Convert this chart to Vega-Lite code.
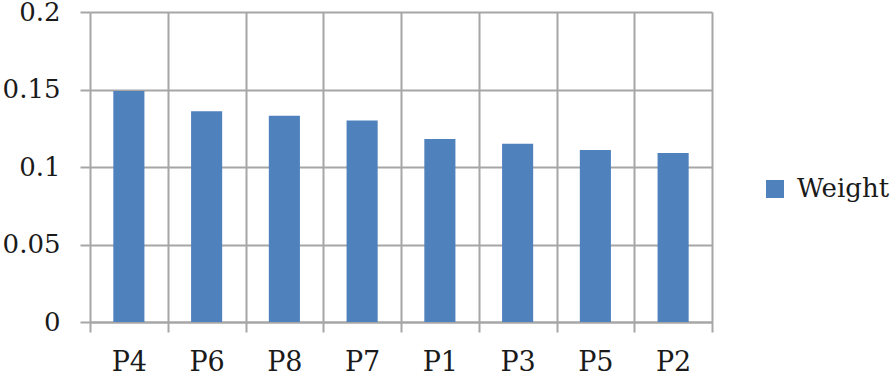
{
  "$schema": "https://vega.github.io/schema/vega-lite/v6.json",
  "autosize": "none",
  "width": 622,
  "height": 310,
  "padding": {"left": 90, "top": 12, "right": 181, "bottom": 54},
  "background": "white",
  "config": {"view": {"stroke": null}, "font": "DejaVu Serif"},
  "data": {"values": [
    {"item": "P4", "series": "Weight", "value": 0.149},
    {"item": "P6", "series": "Weight", "value": 0.136},
    {"item": "P8", "series": "Weight", "value": 0.133},
    {"item": "P7", "series": "Weight", "value": 0.130},
    {"item": "P1", "series": "Weight", "value": 0.118},
    {"item": "P3", "series": "Weight", "value": 0.115},
    {"item": "P5", "series": "Weight", "value": 0.111},
    {"item": "P2", "series": "Weight", "value": 0.109}
  ]},
  "mark": {"type": "bar", "width": {"band": 0.4}},
  "encoding": {
    "x": {
      "field": "item", "type": "nominal", "sort": null,
      "scale": {"paddingInner": 0, "paddingOuter": 0},
      "axis": {
        "title": null, "labelAngle": 0, "grid": true, "tickBand": "extent",
        "gridColor": "#a6a6a6", "gridWidth": 2, "gridOpacity": 1,
        "tickColor": "#a6a6a6", "tickWidth": 2, "tickSize": 10,
        "domainColor": "#a6a6a6", "domainWidth": 2,
        "labelFont": "DejaVu Serif", "labelFontSize": 27, "labelColor": "#1a1a1a",
        "labelPadding": 17
      }
    },
    "y": {
      "field": "value", "type": "quantitative",
      "scale": {"domain": [0, 0.2]},
      "axis": {
        "title": null, "values": [0, 0.05, 0.1, 0.15, 0.2], "domain": false,
        "format": ".2~f",
        "grid": true, "gridColor": "#a6a6a6", "gridWidth": 2, "gridOpacity": 1,
        "tickColor": "#a6a6a6", "tickWidth": 2, "tickSize": 10,
        "labelFont": "DejaVu Serif", "labelFontSize": 26, "labelColor": "#1a1a1a",
        "labelPadding": 20
      }
    },
    "color": {
      "field": "series", "type": "nominal",
      "scale": {"range": ["#4f81bd"]},
      "legend": {
        "title": null, "orient": "none", "legendX": 672, "legendY": 164,
        "symbolType": "square", "symbolSize": 324, "symbolStrokeWidth": 0,
        "labelFont": "DejaVu Serif", "labelFontSize": 26, "labelColor": "#1a1a1a",
        "labelOffset": 9
      }
    }
  }
}
